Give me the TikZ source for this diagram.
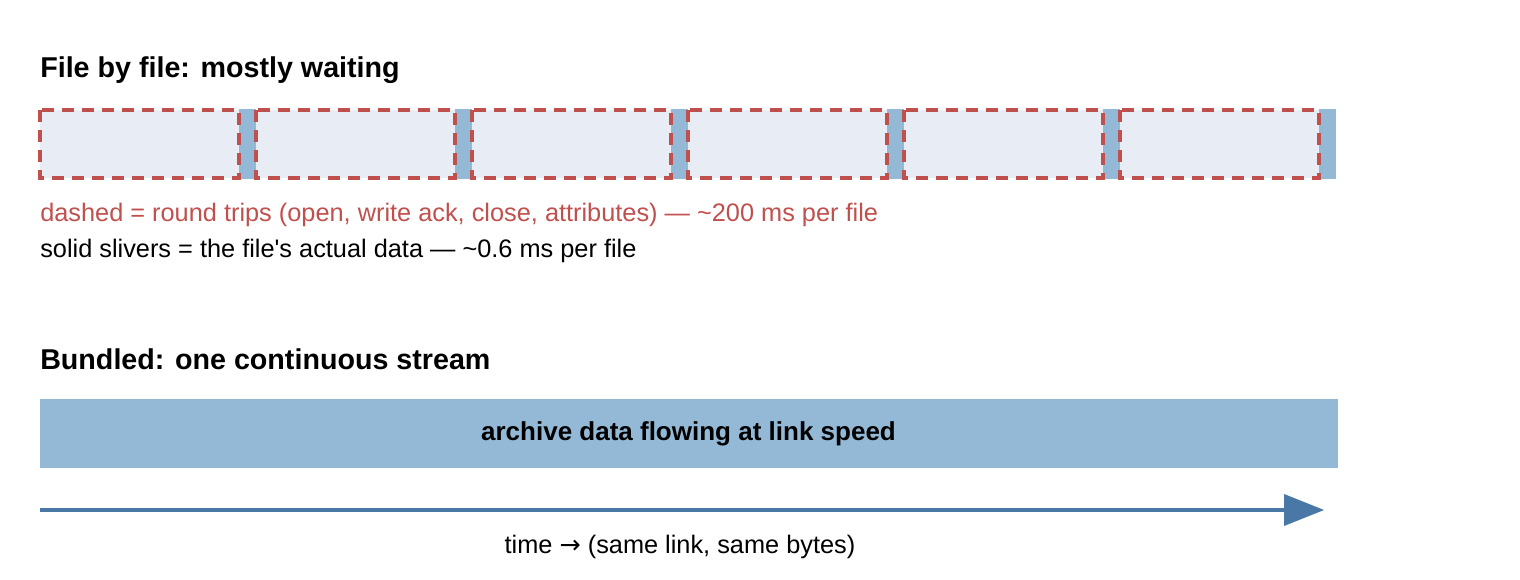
\documentclass[tikz,border=0pt]{standalone}
\usepackage{fontspec}
\setmainfont{Liberation Sans}
\newfontfamily\arrowfont{DejaVu Sans}
\definecolor{wait}{HTML}{E8ECF4}
\definecolor{dash}{HTML}{C0504D}
\definecolor{data}{HTML}{93B9D6}
\definecolor{axis}{HTML}{4A78A6}
\begin{document}
\begin{tikzpicture}[x=0.75pt,y=-0.75pt,
  sliver/.style={fill=data},
  dashbox/.style={draw=dash,line width=2.4pt,dash pattern=on 9pt off 6pt},
  title/.style={anchor=west,font=\fontsize{21.5}{25}\selectfont\bfseries,inner sep=0},
  txt/.style={anchor=west,font=\fontsize{19}{22}\selectfont,inner sep=0}]
\useasboundingbox (0,0) rectangle (1520,580);
\node[title] (t1) at (40,70) {File by file: mostly waiting};
\foreach \i in {0,...,5}{
  \fill[wait] (40+216*\i,110) rectangle (239+216*\i,178);
  \fill[sliver] (239+216*\i,109) rectangle (256+216*\i,179);
  \path[dashbox] (40+216*\i,110) rectangle (239+216*\i,178);
}
\node[txt,text=dash] (l1) at (40,215) {dashed = round trips (open, write ack, close, attributes) — \textasciitilde200 ms per file};
\node[txt] (l2) at (40,251) {solid slivers = the file\textquotesingle s actual data — \textasciitilde0.6 ms per file};
\node[title] (t2) at (40,359) {Bundled: one continuous stream};
\node[fill=data,minimum width=1298*0.75pt,minimum height=69*0.75pt,inner sep=0,
  font=\fontsize{19.5}{22}\selectfont\bfseries] (bar) at (688.5,433.5) {archive data flowing at link speed};
\coordinate (a0) at (40,510);
\coordinate (a1) at (1324,510);
\draw[axis,line width=3pt] (a0) -- (1290,510);
\fill[axis] (1284,494) -- (a1) -- (1284,526) -- cycle;
\node[font=\fontsize{19}{22}\selectfont] (tl) at (680,547) {time {\arrowfont →} (same link, same bytes)};
\end{tikzpicture}
\end{document}
